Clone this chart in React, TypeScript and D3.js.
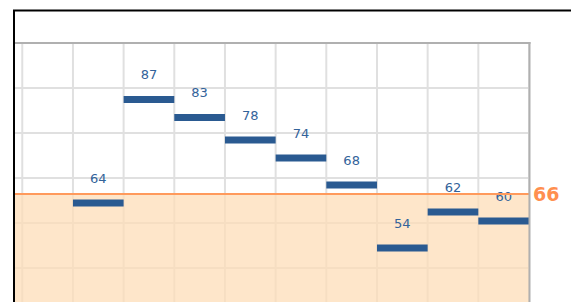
// @ts-nocheck
import React from "react";
import * as d3 from "d3";

// one slot per column, the first two columns carry no value
const slots = ["c1", "c2", "c3", "c4", "c5", "c6", "c7", "c8", "c9", "c10", "c11"];
const values = [null, null, 64, 87, 83, 78, 74, 68, 54, 62, 60];
const reference = 66;
const yTicks = [100, 90, 80, 70, 60, 50, 40];

const W = 571;
const H = 302;

const App = () => {
  const x = d3.scaleBand().domain(slots).range([-28.4, 529]).padding(0);
  const y = d3.scaleLinear().domain([50, 100]).range([268, 43]);

  const refY = y(reference) - 2;
  const blue = "#2a5a91";
  const font = "'DejaVu Sans', Verdana, sans-serif";

  const bounds = slots.map((s) => x(s)).concat([x.range()[1]]);

  return (
    <svg
      width={W}
      height={H}
      style={{ position: "absolute", left: 0, top: 0, background: "#fff" }}
    >
      {/* grid */}
      <g stroke="#e0e0e0" strokeWidth={2}>
        {yTicks.map((t) => (
          <line key={"h" + t} x1={15} x2={529} y1={y(t)} y2={y(t)} />
        ))}
        {bounds.map((b, i) => (
          <line key={"v" + i} x1={b} x2={b} y1={43} y2={H + 20} />
        ))}
      </g>

      {/* area under the reference line */}
      <rect
        x={15}
        y={refY}
        width={529 - 15}
        height={H - refY + 20}
        fill="rgb(254,222,184)"
        fillOpacity={0.75}
      />

      {/* value bars */}
      {values.map((v, i) =>
        v == null ? null : (
          <rect
            key={"b" + i}
            x={x(slots[i])}
            y={y(v) - 5.5}
            width={x.bandwidth()}
            height={7}
            fill={blue}
          />
        )
      )}

      {/* value labels */}
      {values.map((v, i) =>
        v == null ? null : (
          <text
            key={"t" + i}
            x={x(slots[i]) + x.bandwidth() / 2}
            y={y(v) - 22.5}
            textAnchor="middle"
            fontFamily={font}
            fontSize={13}
            fill="#33639a"
          >
            {v}
          </text>
        )
      )}

      {/* reference line */}
      <line x1={15} x2={529} y1={refY} y2={refY} stroke="#ff9a5c" strokeWidth={2} />
      <text
        x={533}
        y={refY + 6.5}
        fontFamily={font}
        fontWeight="bold"
        fontSize={19}
        fill="#ff8f4f"
      >
        {reference}
      </text>

      {/* plot border */}
      <line x1={15} x2={530.5} y1={43} y2={43} stroke="#b0b0b0" strokeWidth={2} />
      <line x1={529.5} x2={529.5} y1={42} y2={H + 20} stroke="#b0b0b0" strokeWidth={2} />

      {/* outer frame, its right and bottom sides lie outside the picture */}
      <rect x={14} y={10.5} width={W} height={H + 20} fill="none" stroke="#000" strokeWidth={2} />
    </svg>
  );
};

export default App;
